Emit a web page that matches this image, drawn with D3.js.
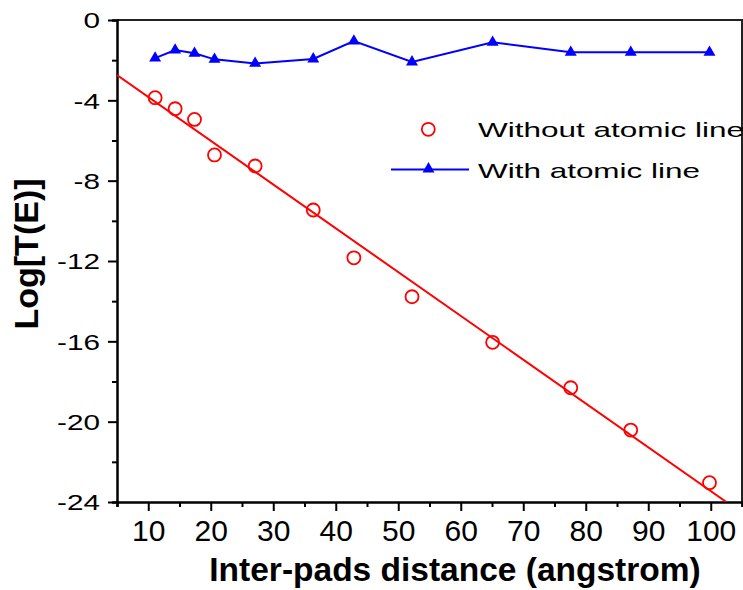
<!DOCTYPE html>
<html>
<head>
<meta charset="utf-8">
<script src="https://cdn.jsdelivr.net/npm/d3@7"></script>
<style>
  html, body { margin: 0; padding: 0; background: #fff; }
  svg { display: block; }
  text { font-family: Arial, "Liberation Sans", sans-serif; }
</style>
</head>
<body>
<svg id="chart" width="743" height="590"></svg>
<script>
// ---- data ----
const distance = [11.1, 14.3, 17.4, 20.6, 27.1, 36.4, 42.9, 52.2, 65.1, 77.6, 87.2, 99.8];
const withoutLine = [-3.87, -4.42, -4.95, -6.72, -7.27, -9.46, -11.84, -13.78, -16.05, -18.31, -20.42, -23.04];
const withLine = [-1.9, -1.5, -1.66, -1.96, -2.16, -1.94, -1.05, -2.09, -1.11, -1.61, -1.61, -1.61];
const fitX = [5, 102.5];
const fitY = [-2.74, -24];
const xTicks = [10, 20, 30, 40, 50, 60, 70, 80, 90, 100];
const xMinorTicks = [5, 15, 25, 35, 45, 55, 65, 75, 85, 95, 105];
const yTicks = [0, -4, -8, -12, -16, -20, -24];
const yMinorTicks = [-2, -6, -10, -14, -18, -22];
const seriesNames = ["Without atomic line", "With atomic line"];
const xTitle = "Inter-pads distance (angstrom)";
const yTitle = "Log[T(E)]";

// ---- layout ----
const pLeft = 117, pRight = 742, pTop = 20, pBottom = 502;
const svg = d3.select("#chart");
const x = d3.scaleLinear().domain([5, 105]).range([pLeft, pRight]);
const y = d3.scaleLinear().domain([-24, 0]).range([pBottom, pTop]);

// frame (top and right)
svg.append("path")
  .attr("d", `M${pLeft},${pTop}H${pRight}V${pBottom}`)
  .attr("fill", "none").attr("stroke", "#222").attr("stroke-width", 2);

// clip for data
svg.append("clipPath").attr("id", "plotclip")
  .append("rect").attr("x", pLeft).attr("y", pTop).attr("width", pRight - pLeft).attr("height", pBottom - pTop);

// x axis
const gx = svg.append("g").attr("transform", `translate(0,${pBottom})`);
gx.call(d3.axisBottom(x).tickValues(xMinorTicks).tickSize(5).tickFormat(""));
gx.selectAll(".tick line").attr("stroke-width", 2);
gx.select(".domain").attr("stroke-width", 2.5);
const gx2 = svg.append("g").attr("transform", `translate(0,${pBottom})`);
gx2.call(d3.axisBottom(x).tickValues(xTicks).tickSize(9).tickPadding(9).tickFormat(d => String(d)));
gx2.select(".domain").remove();
gx2.selectAll(".tick line").attr("stroke-width", 2);
gx2.selectAll(".tick text").attr("font-size", 30).attr("fill", "#000")
  .attr("font-family", "Arial, 'Liberation Sans', sans-serif");

// y axis
const gy = svg.append("g").attr("transform", `translate(${pLeft},0)`);
gy.call(d3.axisLeft(y).tickValues(yMinorTicks).tickSize(5).tickFormat(""));
gy.selectAll(".tick line").attr("stroke-width", 2);
gy.select(".domain").attr("stroke-width", 2.5);
const gy2 = svg.append("g").attr("transform", `translate(${pLeft},0)`);
gy2.call(d3.axisLeft(y).tickValues(yTicks).tickSize(9).tickFormat(d => String(d)));
gy2.select(".domain").remove();
gy2.selectAll(".tick line").attr("stroke-width", 2);
gy2.selectAll(".tick text")
  .attr("x", 0).attr("dy", "0.36em")
  .attr("transform", "translate(-17,0) scale(1.35,1)")
  .attr("font-size", 22).attr("fill", "#000")
  .attr("font-family", "Arial, 'Liberation Sans', sans-serif");

// axis titles
svg.append("text").attr("x", 455).attr("y", 581).attr("text-anchor", "middle")
  .attr("font-size", 33.5).attr("font-weight", "bold").text(xTitle);
svg.append("text").attr("transform", "translate(38,254) rotate(-90)").attr("text-anchor", "middle")
  .attr("font-size", 34).attr("font-weight", "bold").text(yTitle);

const plot = svg.append("g").attr("clip-path", "url(#plotclip)");

// fit line (red)
const fitData = fitX.map((d, i) => [d, fitY[i]]);
plot.append("path").datum(fitData)
  .attr("d", d3.line().x(d => x(d[0])).y(d => y(d[1])))
  .attr("fill", "none").attr("stroke", "#ff0000").attr("stroke-width", 2);

// red circles
svg.append("g").selectAll("circle").data(distance.map((d, i) => [d, withoutLine[i]])).join("circle")
  .attr("cx", d => x(d[0])).attr("cy", d => y(d[1])).attr("r", 6.5)
  .attr("fill", "none").attr("stroke", "#ff0000").attr("stroke-width", 1.8);

// blue line + triangles
const blueData = distance.map((d, i) => [d, withLine[i]]);
svg.append("path").datum(blueData)
  .attr("d", d3.line().x(d => x(d[0])).y(d => y(d[1])))
  .attr("fill", "none").attr("stroke", "#0000ff").attr("stroke-width", 2);
const tri = d3.symbol().type(d3.symbolTriangle).size(62);
svg.append("g").selectAll("path").data(blueData).join("path")
  .attr("transform", d => `translate(${x(d[0])},${y(d[1])})`)
  .attr("d", tri).attr("fill", "#0000ff");

// legend
const lg = svg.append("g");
lg.append("circle").attr("cx", 428.3).attr("cy", 129.3).attr("r", 6.5)
  .attr("fill", "none").attr("stroke", "#ff0000").attr("stroke-width", 1.8);
lg.append("text").attr("x", 478).attr("y", 137).attr("font-size", 21)
  .attr("textLength", 266).attr("lengthAdjust", "spacingAndGlyphs").text(seriesNames[0]);
lg.append("line").attr("x1", 391).attr("x2", 469).attr("y1", 169.5).attr("y2", 169.5)
  .attr("stroke", "#0000ff").attr("stroke-width", 2);
lg.append("path").attr("transform", "translate(428.5,169)").attr("d", tri).attr("fill", "#0000ff");
lg.append("text").attr("x", 478).attr("y", 177.5).attr("font-size", 21)
  .attr("textLength", 222).attr("lengthAdjust", "spacingAndGlyphs").text(seriesNames[1]);
</script>
</body>
</html>
